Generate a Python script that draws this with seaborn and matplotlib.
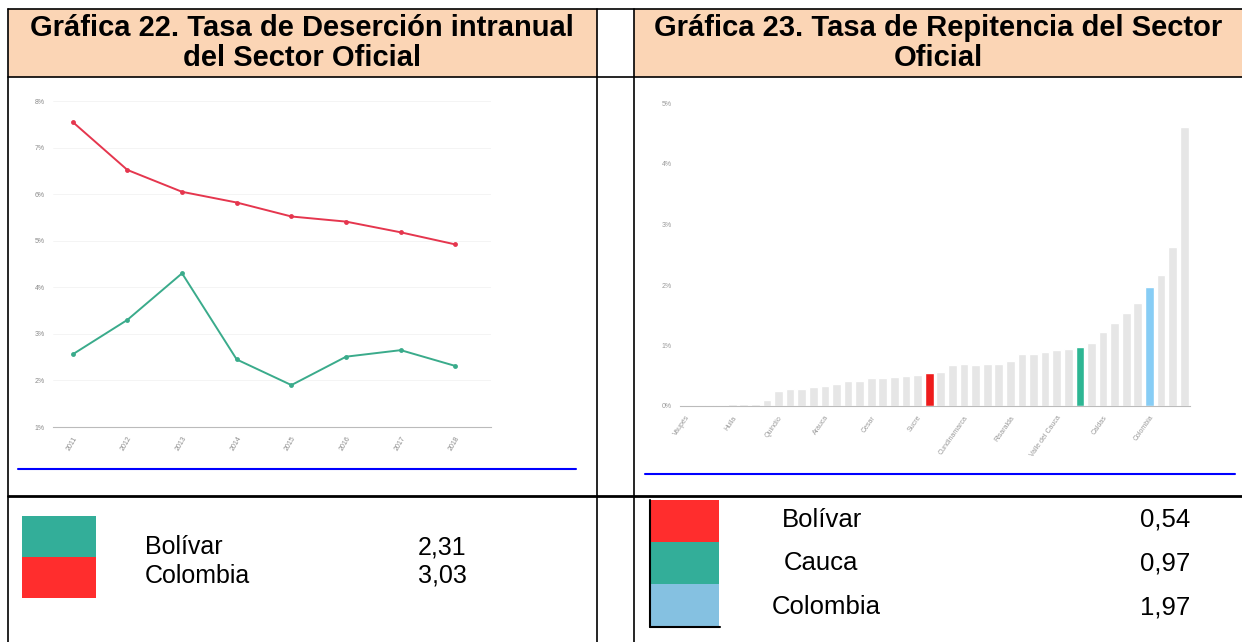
import matplotlib
matplotlib.use('Agg')
import matplotlib.pyplot as plt
import seaborn as sns
import pandas as pd
from matplotlib.lines import Line2D
from matplotlib.patches import Rectangle

# ---------------- data ----------------
years = ['2011', '2012', '2013', '2014', '2015', '2016', '2017', '2018']
colombia_desercion = [7.55, 6.52, 6.05, 5.82, 5.52, 5.41, 5.18, 4.92]
bolivar_desercion = [2.56, 3.30, 4.30, 2.45, 1.90, 2.51, 2.65, 2.31]
left_yticks = [1, 2, 3, 4, 5, 6, 7, 8]
left_yticklabels = ['1%', '2%', '3%', '4%', '5%', '6%', '7%', '8%']

entidades = ['Vaupés', 'Guainía', 'Vichada', 'Amazonas', 'Huila', 'Putumayo',
             'Guaviare', 'San Andrés', 'Quindío', 'Casanare', 'Boyacá', 'Nariño',
             'Arauca', 'Santander', 'Meta', 'Tolima', 'Cesar', 'Córdoba',
             'Antioquia', 'La Guajira', 'Sucre', 'Bolívar', 'Magdalena', 'Chocó',
             'Cundinamarca', 'Bogotá D.C.', 'Caquetá', 'Atlántico', 'Risaralda',
             'Norte de Santander', 'Barranquilla', 'Medellín', 'Valle del Cauca',
             'Cartagena', 'Cauca', 'Cali', 'Caldas', 'Soacha', 'Montería', 'Pasto',
             'Colombia', 'Ibagué', 'Neiva', 'Popayán']
repitencia = [0.00, 0.005, 0.01, 0.02, 0.03, 0.03, 0.04, 0.10, 0.24, 0.28, 0.28,
              0.31, 0.33, 0.37, 0.41, 0.42, 0.46, 0.46, 0.48, 0.50, 0.51, 0.54,
              0.57, 0.68, 0.69, 0.68, 0.69, 0.70, 0.75, 0.86, 0.86, 0.90, 0.93,
              0.95, 0.97, 1.04, 1.23, 1.37, 1.54, 1.71, 1.97, 2.17, 2.62, 4.61]
right_yticks = [0, 1, 2, 3, 4, 5]
right_yticklabels = ['0%', '1%', '2%', '3%', '4%', '5%']
label_every = 4

highlight = {'Bolívar': '#ee1c1c', 'Cauca': '#2db693', 'Colombia': '#87cdf5'}

titles = ['Gráfica 22. Tasa de Deserción intranual\ndel Sector Oficial',
          'Gráfica 23. Tasa de Repitencia del Sector\nOficial']
legend_left_names = ['Bolívar', 'Colombia']
legend_left_values = ['2,31', '3,03']
legend_right_names = ['Bolívar', 'Cauca', 'Colombia']
legend_right_values = ['0,54', '0,97', '1,97']

# ---------------- style ----------------
sns.set_theme(style='white')
plt.rcParams['font.family'] = ['Liberation Sans', 'DejaVu Sans']
plt.rcParams['text.color'] = 'black'

W, H = 1242, 642
fig = plt.figure(figsize=(W / 100, H / 100), dpi=100)
fig.patch.set_facecolor('white')

bg = fig.add_axes([0, 0, 1, 1])
bg.set_xlim(0, W)
bg.set_ylim(H, 0)
bg.axis('off')


def px_axes(x0, y0, x1, y1):
    return fig.add_axes([x0 / W, 1 - y1 / H, (x1 - x0) / W, (y1 - y0) / H])


# header cells
peach = '#fbd5b5'
bg.add_patch(Rectangle((8, 9), 589, 68, fc=peach, ec='none'))
bg.add_patch(Rectangle((634, 9), 608, 68, fc=peach, ec='none'))
bg.text(302, 43, titles[0], ha='center', va='center', fontsize=21,
        fontweight='bold', linespacing=1.08, color='black')
bg.text(938, 43, titles[1], ha='center', va='center', fontsize=21,
        fontweight='bold', linespacing=1.08, color='black')

# table lines
def hline(y, x0, x1, lw):
    bg.add_line(Line2D([x0, x1], [y, y], color='black', lw=lw))


def vline(x, y0, y1, lw):
    bg.add_line(Line2D([x, x], [y0, y1], color='black', lw=lw))

hline(9, 8, 1242, 1.2)
hline(77, 8, 1242, 1.2)
hline(496, 8, 1242, 2.0)
vline(8, 9, 642, 1.2)
vline(597, 9, 642, 1.2)
vline(634, 9, 642, 1.2)

# blue rules under charts
bg.add_line(Line2D([18, 576], [469, 469], color='#0000ff', lw=1.5))
bg.add_line(Line2D([645, 1235], [474, 474], color='#0000ff', lw=1.5))

# ---------------- left chart ----------------
axL = px_axes(53, 101, 491, 427)
df_left = pd.DataFrame({
    'year': years * 2,
    'value': colombia_desercion + bolivar_desercion,
    'serie': ['Colombia'] * len(years) + ['Bolívar'] * len(years),
})
sns.lineplot(data=df_left, x='year', y='value', hue='serie',
             palette={'Colombia': '#e5364e', 'Bolívar': '#3aab8b'},
             marker='o', markersize=3.5, markeredgewidth=0, lw=1.4,
             legend=False, ax=axL, sort=False)
axL.set_xlim(-0.36, 7.65)
axL.set_ylim(1, 8)
axL.set_yticks(left_yticks)
axL.set_yticklabels(left_yticklabels)
axL.set_xlabel('')
axL.set_ylabel('')
for s in ['top', 'right', 'left']:
    axL.spines[s].set_visible(False)
axL.spines['bottom'].set_color('#bbbbbb')
axL.spines['bottom'].set_linewidth(0.8)
axL.grid(axis='y', color='#f3f3f3', lw=0.6)
axL.tick_params(axis='both', length=0, labelsize=5, labelcolor='#8a8a8a', pad=6)
for lab in axL.get_xticklabels():
    lab.set_rotation(60)
    lab.set_ha('right')
    lab.set_rotation_mode('anchor')

# ---------------- right chart ----------------
axR = px_axes(680, 103.5, 1190, 406)
colors = [highlight.get(n, '#e6e6e6') for n in entidades]
df_right = pd.DataFrame({'entidad': entidades, 'tasa': repitencia})
sns.barplot(data=df_right, x='entidad', y='tasa', hue='entidad',
            palette=dict(zip(entidades, colors)), legend=False,
            width=0.75, ax=axR, saturation=1)
axR.set_xlim(-0.5, len(entidades) - 0.5)
axR.set_ylim(0, 5)
axR.set_yticks(right_yticks)
axR.set_yticklabels(right_yticklabels)
axR.set_xlabel('')
axR.set_ylabel('')
ticks = list(range(0, len(entidades), label_every))
axR.set_xticks(ticks)
axR.set_xticklabels([entidades[i] for i in ticks])
for s in ['top', 'right', 'left']:
    axR.spines[s].set_visible(False)
axR.spines['bottom'].set_color('#bbbbbb')
axR.spines['bottom'].set_linewidth(0.8)
axR.tick_params(axis='both', length=0, labelsize=5, labelcolor='#9a9a9a', pad=6)
for lab in axR.get_xticklabels():
    lab.set_rotation(55)
    lab.set_ha('right')
    lab.set_rotation_mode('anchor')

# ---------------- legends ----------------
left_cols = ['#33ae99', '#ff2d2d']
for i, (n, v) in enumerate(zip(legend_left_names, legend_left_values)):
    bg.add_patch(Rectangle((22, 516 + i * 41), 74, 41, fc=left_cols[i], ec='none'))
    bg.text(145, 547 + i * 29, n, ha='left', va='center', fontsize=18, color='black')
    bg.text(418, 547 + i * 29, v, ha='left', va='center', fontsize=18, color='black')

right_cols = ['#ff2d2d', '#33ae99', '#85c1e1']
for i, (n, v) in enumerate(zip(legend_right_names, legend_right_values)):
    bg.add_patch(Rectangle((650, 500 + i * 42), 69, 42, fc=right_cols[i], ec='none'))
name_x = [782, 784, 772]
for i, (n, v) in enumerate(zip(legend_right_names, legend_right_values)):
    bg.text(name_x[i], 520 + i * 43.5, n, ha='left', va='center', fontsize=18.5, color='black')
    bg.text(1140, 520 + i * 43.5, v, ha='left', va='center', fontsize=18.5, color='black')
bg.add_line(Line2D([650, 650], [500, 627], color='black', lw=1.5))
bg.add_line(Line2D([650, 720], [627, 627], color='black', lw=1.5))

fig.savefig('out.png', dpi=100, facecolor='white')
